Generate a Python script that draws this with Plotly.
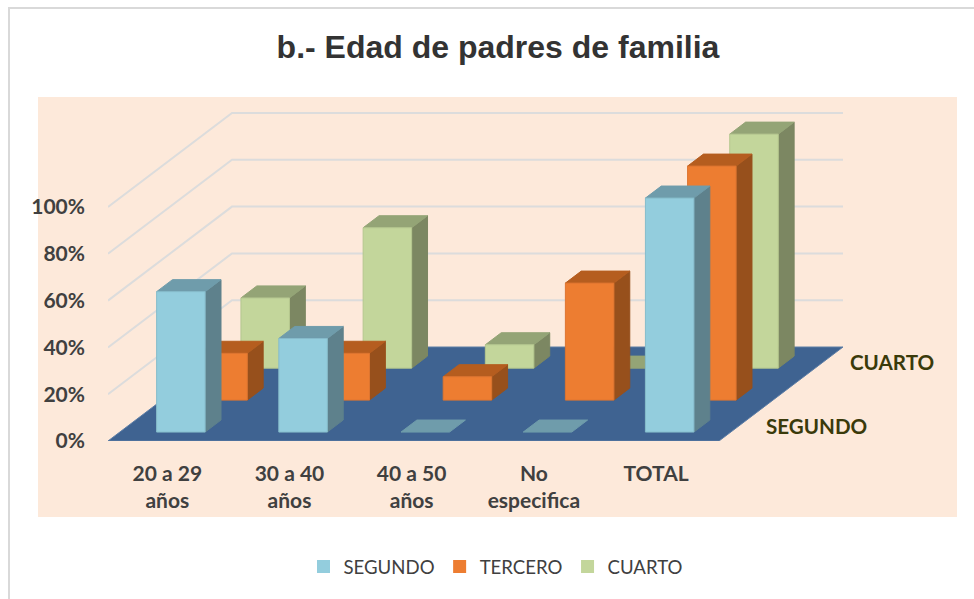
import plotly.graph_objects as go

# ---- data ----
categories = ["20 a 29<br>años", "30 a 40<br>años", "40 a 50<br>años", "No<br>especifica", "TOTAL"]
segundo = [60, 40, 0, 0, 100]
tercero = [20, 20, 10, 50, 100]
cuarto = [30, 60, 10, 0, 100]
y_ticks = [0, 20, 40, 60, 80, 100]
y_tick_labels = ["0%", "20%", "40%", "60%", "80%", "100%"]
title_text = "b.- Edad de padres de familia"

# ---- page geometry (pixels) ----
W, H = 974, 599
L, R, T, B = 108, 955, 100, 441
PX_X = 122.2    # pixels per category
PX_Y = 2.34     # pixels per percent
DEPTH_PX = (124.0, 94.0)  # floor depth offset, pixels
x_range = [0, (R - L) / PX_X]
y_range = [0, (B - T) / PX_Y]
DX, DY = DEPTH_PX[0] / PX_X, DEPTH_PX[1] / PX_Y


def proj(x, d, v):
    """Oblique projection: category position, floor depth 0..1, value."""
    return x + d * DX, v + d * DY


def px(xp):
    return (xp - L) / (R - L)


def py(yp):
    return (B - yp) / (B - T)


BAR_W = 0.397
BAR_D = 0.128
ROW0 = 0.095
ROW_STEP = 0.34

rows = [
    ("CUARTO", cuarto, 2, "#c3d69b", "#94a476", "#7c8762", "#b5c78f"),
    ("TERCERO", tercero, 1, "#ed7d31", "#b55d1f", "#97501c", "#dd7530"),
    ("SEGUNDO", segundo, 0, "#93cddd", "#6f9cab", "#5e818c", "#86bccb"),
]

fig = go.Figure()


def poly(points_list, color, line):
    xs, ys = [], []
    for pts in points_list:
        for p in pts + [pts[0]]:
            xs.append(p[0])
            ys.append(p[1])
        xs.append(None)
        ys.append(None)
    fig.add_trace(go.Scatter(x=xs, y=ys, mode="lines", fill="toself", fillcolor=color,
                             line=dict(color=line, width=1), showlegend=False, hoverinfo="skip"))


# walls' gridlines
grid_vals = [v for v in y_ticks if v > 0]
gx, gy = [], []
for v in grid_vals:
    for p in (proj(0, 0, v), proj(0, 1, v), proj(5, 1, v)):
        gx.append(p[0])
        gy.append(p[1])
    gx.append(None)
    gy.append(None)
fig.add_trace(go.Scatter(x=gx, y=gy, mode="lines", line=dict(color="#dcdcdc", width=2),
                         showlegend=False, hoverinfo="skip"))

# floor
poly([[proj(0, 0, 0), proj(5, 0, 0), proj(5, 1, 0), proj(0, 1, 0)]], "#3f6391", "#5d7ea6")

# bars
for name, vals, row, front, top, side, edge in rows:
    d0 = ROW0 + row * ROW_STEP
    d1 = d0 + BAR_D
    sides, tops, fronts = [], [], []
    for i, v in enumerate(vals):
        x0 = i + 0.5 - BAR_W / 2
        x1 = x0 + BAR_W
        tops.append([proj(x0, d0, v), proj(x1, d0, v), proj(x1, d1, v), proj(x0, d1, v)])
        if v > 0:
            sides.append([proj(x1, d0, 0), proj(x1, d1, 0), proj(x1, d1, v), proj(x1, d0, v)])
            fronts.append([proj(x0, d0, 0), proj(x1, d0, 0), proj(x1, d0, v), proj(x0, d0, v)])
    poly(sides, side, side)
    poly(tops, top, top)
    poly(fronts, front, edge)

# legend entries
for name, color in [("SEGUNDO", "#93cddd"), ("TERCERO", "#ed7d31"), ("CUARTO", "#c3d69b")]:
    fig.add_trace(go.Scatter(x=[None], y=[None], mode="markers", name=name,
                             marker=dict(symbol="square", size=13, color=color)))

# depth-axis labels
annotations = []
for name, row in [("SEGUNDO", 0), ("CUARTO", 2)]:
    ax, ay = proj(5.205, ROW0 + row * ROW_STEP + BAR_D / 2, 0)
    annotations.append(dict(x=ax, y=ay, xref="x", yref="y", text="<b>%s</b>" % name, showarrow=False,
                            xanchor="left", yanchor="middle",
                            font=dict(family="Lato", size=20.6, color="#3a3a0a")))

shapes = [
    dict(type="rect", xref="paper", yref="paper", x0=px(38), x1=px(957), y0=py(97), y1=py(517),
         fillcolor="#fde9da", line=dict(width=0), layer="below"),
    dict(type="path", xref="paper", yref="paper",
         path="M %f %f L %f %f L %f %f" % (px(9), py(599), px(9), py(8), px(974), py(8)),
         line=dict(color="#d9d9d9", width=2), layer="below"),
]

fig.update_layout(
    width=W, height=H,
    margin=dict(l=L, r=W - R, t=T, b=H - B, pad=0),
    paper_bgcolor="white", plot_bgcolor="rgba(0,0,0,0)",
    title=dict(text="<b>%s</b>" % title_text, x=498 / W, xanchor="center", y=1 - 47 / H, yanchor="middle",
               font=dict(family="Liberation Sans", size=32, color="#333333")),
    xaxis=dict(range=x_range, tickmode="array", tickvals=[i + 0.485 for i in range(5)], ticktext=categories,
               showgrid=False, zeroline=False, showline=False, ticks="", ticklabelstandoff=18, fixedrange=True,
               tickangle=0,
               tickfont=dict(family="Lato", size=21, color="#404040", weight="bold")),
    yaxis=dict(range=y_range, tickmode="array", tickvals=y_ticks, ticktext=y_tick_labels,
               showgrid=False, zeroline=False, showline=False, ticks="", ticklabelstandoff=22, fixedrange=True,
               tickfont=dict(family="Lato", size=21, color="#404040", weight="bold")),
    legend=dict(orientation="h", x=px(496), xanchor="center", y=py(567), yanchor="middle",
                font=dict(family="Lato", size=18.6, color="#404040"), itemwidth=30,
                bgcolor="rgba(0,0,0,0)", traceorder="normal"),
    shapes=shapes, annotations=annotations, showlegend=True,
)

fig.write_html("out.html", config={"displayModeBar": False},
               post_script="document.body.style.margin='0';document.body.style.overflow='hidden';")
